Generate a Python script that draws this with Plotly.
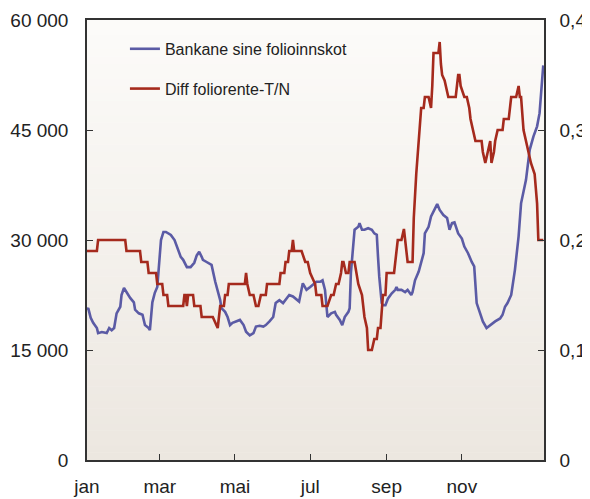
import plotly.graph_objects as go

# ---- data (day of year) ----
blue_days = [0, 1, 3, 5, 8, 9, 12, 16, 18, 20, 22, 24, 27, 28, 30, 32, 35, 38, 39, 42, 45, 47, 50, 51, 53, 55, 57,
             60, 62, 64, 68, 71, 73, 76, 78, 81, 84, 87, 89, 91, 93, 94, 97, 101, 104, 106, 108, 109, 112, 114,
             116, 118, 121, 124, 127, 129, 132, 135, 137, 140, 143, 145, 148, 151, 153, 156, 159, 162, 164, 167,
             170, 172, 175, 177, 178, 181, 183, 186, 189, 191, 193, 195, 198, 201, 202, 205, 207, 209, 212, 213,
             214, 216, 217, 220, 221, 223, 225, 228, 231, 233, 235, 236, 237, 239, 240, 242, 244, 247, 250, 251,
             252, 255, 258, 260, 263, 264, 266, 269, 273, 274, 277, 279, 281, 284, 286, 289, 292, 294, 296, 298,
             301, 304, 306, 309, 312, 314, 316, 319, 321, 324, 327, 331, 335, 337, 339, 341, 344, 347, 350, 352,
             356, 359, 362, 365, 367, 370]
folio = [20500, 20700, 19400, 18700, 18000, 17300, 17450, 17300, 18000, 17700, 18000, 20000, 20900, 22500, 23450,
         22900, 22100, 21500, 20500, 20000, 19800, 18400, 18000, 17700, 21500, 22800, 23600,
         30000, 31100, 31100, 30700, 30000, 29000, 27700, 27300, 26300, 26300, 26900, 27900, 28400, 27700, 27300,
         27000, 26600, 24300, 23200, 21800, 20700, 20200, 19500,
         18400, 18700, 18900, 19100, 18400, 17500, 17000, 17300, 18200, 18300, 18200, 18400, 18900, 19500, 21400,
         21800, 21400, 22100, 22500, 22300,
         21800, 21600, 24100, 23600, 23200, 23600, 23900, 24300, 24300, 24500, 23200, 19500, 20000, 20200, 19800,
         19100, 18400, 19500, 20200, 20700,
         25500, 29500, 31400, 31800, 32300, 31400, 31400, 31600, 31400, 30900, 30700, 27700, 25000, 21400, 21100,
         21100, 22000, 22700, 23200, 23600,
         23200, 23200, 22900, 23200, 22500, 22900, 24500, 25700, 28200, 30900, 31800, 33200, 33900, 34900, 34100,
         33400, 33000, 31400, 32300, 32400,
         30900, 30200, 29100, 28200, 27000, 26400, 21400, 20000, 18900, 18000, 18400, 18900, 19300, 19800, 20900,
         21400, 22500, 25900, 30500, 35000,
         38200, 42300, 44100, 45500, 47300, 53800]

red_days = [0, 8, 9, 31, 32, 43, 44, 49, 50, 56, 57, 61, 62, 65, 66, 78, 79, 80, 81, 82, 86, 87, 92, 93, 102, 106,
            108, 111, 112, 114, 115, 128, 129, 130, 132, 135, 137, 139, 141, 145, 146, 156, 157, 160, 161, 163, 164,
            166, 167, 168, 174, 177, 179, 181, 185, 186, 190, 191, 195, 198, 200, 202, 204, 206, 207, 208, 210, 212,
            213, 217, 220, 223, 225, 227, 228, 231, 233, 235, 236, 238, 240, 242, 243, 249, 252, 255, 257, 258, 260,
            264, 265, 267, 269, 271, 273, 274, 277, 279, 280, 281, 285, 286, 287, 288, 290, 291, 293, 299, 301, 302,
            303, 306, 308, 310, 311, 313, 315, 320, 321, 323, 325, 327, 328, 330, 331, 333, 337, 338, 342, 344, 348,
            350, 351, 352, 354, 356, 358, 360, 363, 365, 366, 370]
diff = [0.19, 0.19, 0.20, 0.20, 0.19, 0.19, 0.18, 0.18, 0.17, 0.17, 0.16, 0.16, 0.15, 0.15, 0.14, 0.14, 0.15, 0.15,
        0.14, 0.15, 0.15, 0.14, 0.14, 0.13, 0.13, 0.12,
        0.14, 0.14, 0.15, 0.15, 0.16, 0.16, 0.17, 0.16, 0.15, 0.15, 0.14, 0.14, 0.15, 0.15, 0.16, 0.16, 0.17, 0.17,
        0.18, 0.18, 0.19,
        0.19, 0.20, 0.19, 0.19, 0.18, 0.18, 0.17, 0.16, 0.15, 0.15, 0.14, 0.14, 0.15, 0.15, 0.16, 0.16, 0.17, 0.18,
        0.18, 0.17, 0.17,
        0.18, 0.18, 0.16, 0.15, 0.13, 0.12, 0.10, 0.10, 0.11, 0.11, 0.12, 0.12, 0.15, 0.15, 0.17, 0.17, 0.20, 0.20,
        0.21, 0.20, 0.18,
        0.18, 0.22, 0.26, 0.29, 0.32, 0.32, 0.33, 0.33, 0.32, 0.34, 0.37, 0.37, 0.38, 0.36, 0.35, 0.345, 0.34, 0.33,
        0.33, 0.35, 0.35,
        0.34, 0.33, 0.33, 0.32, 0.31, 0.30, 0.29, 0.29, 0.28, 0.27, 0.28, 0.29, 0.27, 0.28, 0.29, 0.30, 0.30, 0.31,
        0.31, 0.33, 0.33,
        0.34, 0.33, 0.33, 0.30, 0.29, 0.28, 0.27, 0.26, 0.233, 0.20, 0.20]

month_days = [0, 59, 120, 181, 243, 304]
month_labels = ["jan", "mar", "mai", "jul", "sep", "nov"]
left_ticks = [0, 15000, 30000, 45000, 60000]
left_labels = ["0", "15 000", "30 000", "45 000", "60 000"]
right_ticks = [0, 0.1, 0.2, 0.3, 0.4]
right_labels = ["0", "0,1", "0,2", "0,3", "0,4"]

BLUE = "#5B5BA5"
RED = "#A52A1D"
AXIS = "#333333"
FONT = "Liberation Sans, Arial, sans-serif"

fig = go.Figure()
fig.add_trace(go.Scatter(x=blue_days, y=folio, mode="lines", name="Bankane sine folioinnskot",
                         line=dict(color=BLUE, width=2.6), yaxis="y", legendgroup="a"))
fig.add_trace(go.Scatter(x=red_days, y=diff, mode="lines", name="Diff foliorente-T/N",
                         line=dict(color=RED, width=2.6), yaxis="y2", legendgroup="b"))

# vertical gradient background of plot area
N = 60
top = (252, 251, 249)
bot = (236, 231, 224)
shapes = []
for i in range(N):
    t = i / (N - 1)
    c = tuple(round(bot[k] + (top[k] - bot[k]) * t) for k in range(3))
    shapes.append(dict(type="rect", xref="paper", yref="paper", x0=0, x1=1, y0=i / N, y1=(i + 1) / N + 0.001,
                       fillcolor="rgb(%d,%d,%d)" % c, line=dict(width=0), layer="below"))

# page body has an 8px margin, so the figure is sized to fit the window
fig.update_layout(
    width=582, height=491,
    margin=dict(l=79, r=46, t=12, b=39),
    paper_bgcolor="white",
    plot_bgcolor="rgba(0,0,0,0)",
    font=dict(family=FONT, size=19, color="#222222"),
    shapes=shapes,
    showlegend=True,
    legend=dict(x=0.083, y=0.973, xanchor="left", yanchor="top", bgcolor="rgba(0,0,0,0)",
                font=dict(size=16, family=FONT, color="#222222"), tracegroupgap=16, itemwidth=30),
    xaxis=dict(range=[0, 370.6], tickvals=month_days, ticktext=month_labels, ticks="inside", ticklen=6,
               tickcolor=AXIS, showline=True, linecolor=AXIS, linewidth=1.5, mirror=True, showgrid=False,
               zeroline=False, ticklabelstandoff=8, automargin=False),
    yaxis=dict(range=[0, 60000], tickvals=left_ticks, ticktext=left_labels, ticks="inside", ticklen=6,
               tickcolor=AXIS, showline=True, linecolor=AXIS, linewidth=1.5, showgrid=False, zeroline=False,
               ticklabelstandoff=13, automargin=False),
    yaxis2=dict(range=[0, 0.4], tickvals=right_ticks, ticktext=right_labels, ticks="inside", ticklen=6,
                tickcolor=AXIS, showline=True, linecolor=AXIS, linewidth=1.5, showgrid=False, zeroline=False,
                overlaying="y", side="right", ticklabelstandoff=10, automargin=False),
)

fig.write_html("out.html")
